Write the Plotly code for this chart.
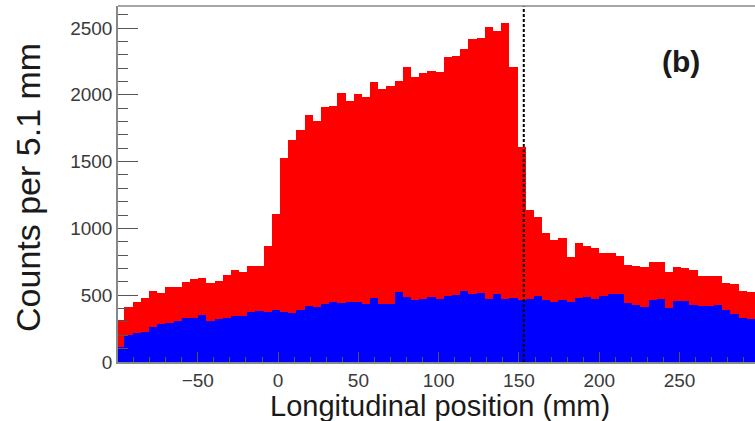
import plotly.graph_objects as go

# Histogram: bins of 5.1 mm, first bin low edge
bin_width = 5.1
first_edge = -100.8

total_counts = [314, 410, 451, 481, 532, 519, 565, 560, 601, 619,
                631, 589, 609, 649, 689, 676, 719, 721, 868, 1110,
                1527, 1665, 1740, 1848, 1801, 1910, 1916, 2011, 1954, 2003,
                1986, 2096, 2043, 2066, 2100, 2210, 2136, 2161, 2180, 2168,
                2281, 2293, 2341, 2416, 2423, 2505, 2480, 2535, 2210, 1611,
                1138, 1083, 963, 913, 926, 788, 888, 868, 856, 818,
                818, 793, 726, 720, 713, 751, 751, 676, 713, 706,
                689, 644, 645, 646, 589, 585, 528, 522]
subset_counts = [115, 205, 217, 227, 264, 287, 294, 309, 327, 327,
                 352, 309, 319, 332, 344, 344, 377, 382, 372, 392,
                 372, 364, 389, 416, 414, 435, 447, 439, 451, 451,
                 434, 481, 432, 432, 522, 489, 464, 472, 484, 472,
                 494, 499, 531, 509, 519, 469, 507, 469, 477, 464,
                 472, 494, 464, 451, 464, 449, 481, 489, 469, 496,
                 506, 506, 439, 427, 414, 464, 469, 402, 459, 459,
                 423, 416, 417, 427, 389, 361, 327, 320]
x_tick_values = [-50, 0, 50, 100, 150, 200, 250]
y_tick_values = [0, 500, 1000, 1500, 2000, 2500]
cut_position = 153
x_range = [-99.7, 297.0]
y_range = [0, 2665]

centers = [first_edge + bin_width * (i + 0.5) for i in range(len(total_counts))]

FONT = "Liberation Sans, Arial, Helvetica, sans-serif"

fig = go.Figure()
fig.add_trace(go.Bar(x=centers, y=total_counts, width=bin_width,
                     marker=dict(color="#ff0000", line=dict(width=0)),
                     showlegend=False))
fig.add_trace(go.Bar(x=centers, y=subset_counts, width=bin_width,
                     marker=dict(color="#0000ff", line=dict(width=0)),
                     showlegend=False))

# dashed vertical line
fig.add_shape(type="line", x0=cut_position, x1=cut_position, xref="x",
              y0=0, y1=1, yref="paper",
              line=dict(color="black", width=2, dash="3px,2px"))
# top frame line
fig.add_shape(type="line", x0=0, x1=1, xref="paper", y0=1, y1=1, yref="paper",
              line=dict(color="#888888", width=1.5))

fig.update_layout(
    width=755, height=421,
    margin=dict(l=118, r=0, t=6, b=59),
    paper_bgcolor="white", plot_bgcolor="white",
    barmode="overlay", bargap=0,
    font=dict(family=FONT),
    xaxis=dict(range=x_range, tickvals=x_tick_values, ticks="inside",
               ticklen=10, tickwidth=1, tickcolor="#555555",
               minor=dict(dtick=10, tick0=0, ticks="inside", ticklen=5,
                          tickcolor="#555555"),
               showline=True, linecolor="#888888", linewidth=1.5,
               showgrid=False, zeroline=False,
               tickfont=dict(size=19, color="#3a3a3a", family=FONT)),
    yaxis=dict(range=y_range, tickvals=y_tick_values, ticks="inside",
               ticklen=20, tickwidth=1, tickcolor="#555555",
               minor=dict(dtick=100, tick0=0, ticks="inside", ticklen=10,
                          tickcolor="#555555"),
               showline=True, linecolor="#888888", linewidth=1.5,
               showgrid=False, zeroline=False,
               tickfont=dict(size=19, color="#3a3a3a", family=FONT)),
    annotations=[
        dict(text="Longitudinal position (mm)", xref="paper", yref="paper",
             x=0.5055, y=-0.124, xanchor="center", yanchor="middle",
             showarrow=False, font=dict(size=29, color="#1a1a1a", family=FONT)),
        dict(text="Counts per 5.1 mm", xref="paper", yref="paper",
             x=-0.1413, y=0.4916, xanchor="center", yanchor="middle",
             textangle=-90, showarrow=False,
             font=dict(size=34, color="#1a1a1a", family=FONT)),
        dict(text="<b>(b)</b>", xref="paper", yref="paper",
             x=0.8846, y=0.8435, xanchor="center", yanchor="middle",
             showarrow=False, font=dict(size=30, color="#1a1a1a", family=FONT)),
    ],
)

fig.write_html("out.html")
